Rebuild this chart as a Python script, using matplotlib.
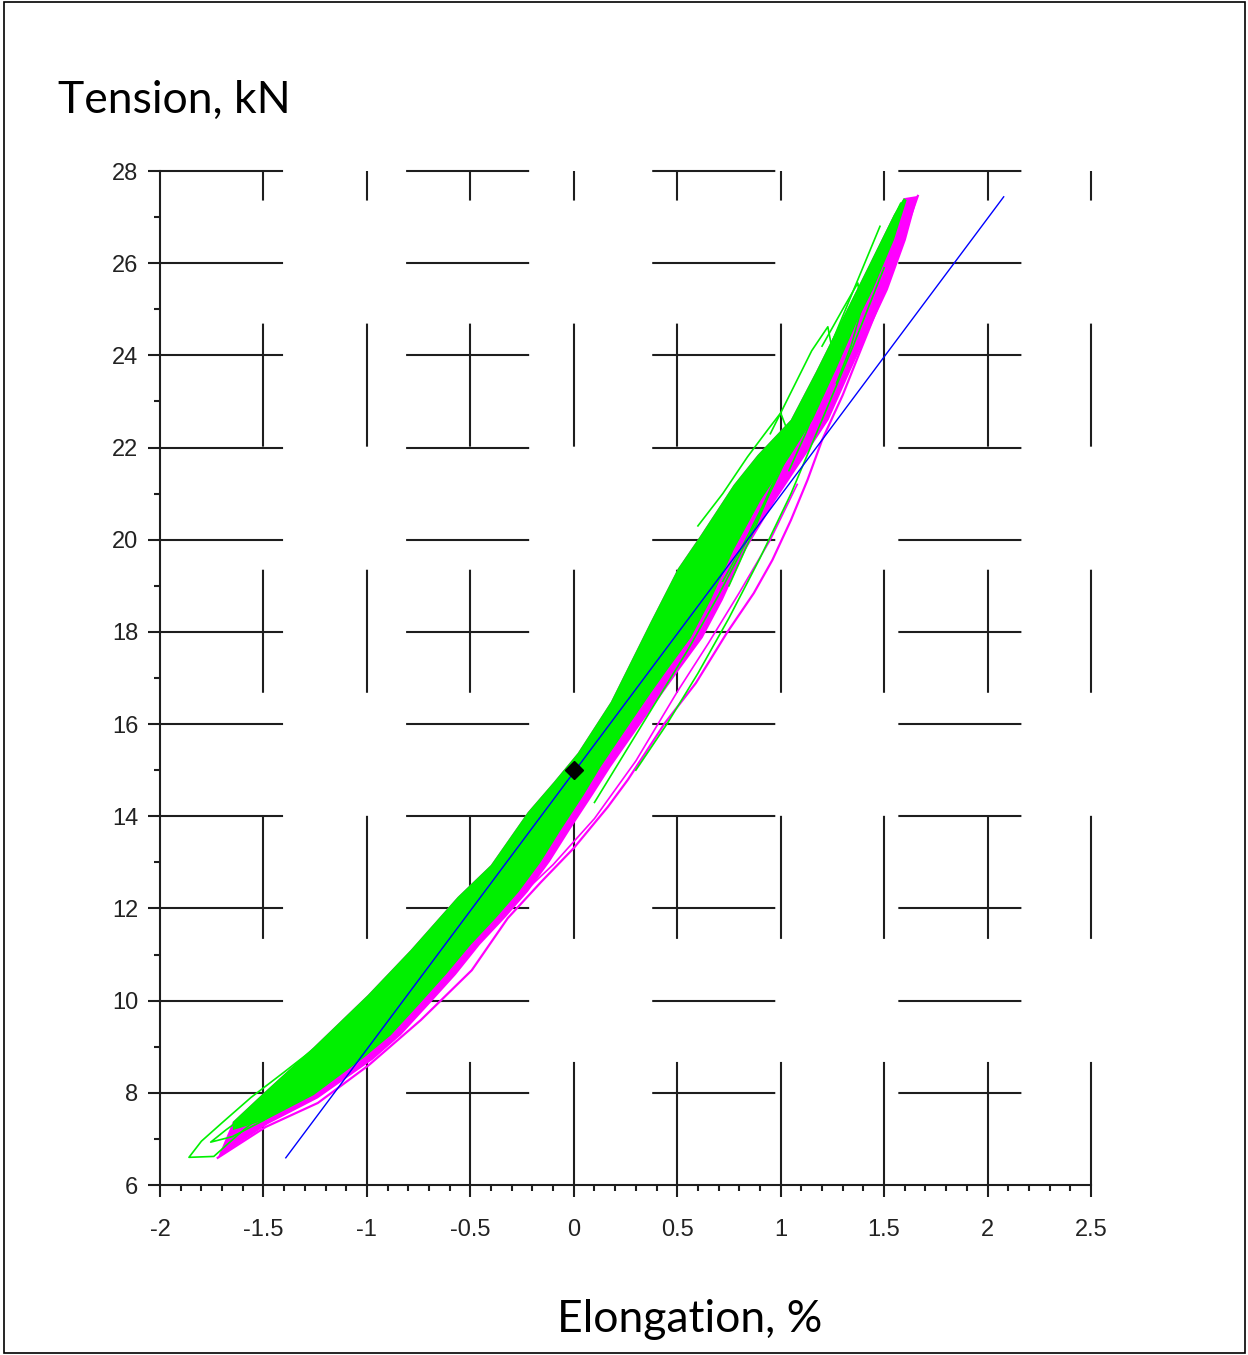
import matplotlib.pyplot as plt
from matplotlib.patches import Rectangle

plt.rcParams['lines.scale_dashes'] = False

# axis ticks
x_ticks = [-2, -1.5, -1, -0.5, 0, 0.5, 1, 1.5, 2, 2.5]
x_tick_labels = ['-2', '-1.5', '-1', '-0.5', '0', '0.5', '1', '1.5', '2', '2.5']
y_ticks = [6, 8, 10, 12, 14, 16, 18, 20, 22, 24, 26, 28]

# dense green band (many overlapping cycles): upper and lower envelopes
green_upper_x = [-1.648, -1.498, -1.257, -0.996, -0.788, -0.561, -0.401, -0.222, -0.097, 0.019,
                 0.179, 0.372, 0.503, 0.614, 0.773, 0.889, 1.049, 1.170, 1.290, 1.435, 1.547, 1.595]
green_upper_y = [7.37, 8.00, 8.99, 10.12, 11.10, 12.25, 12.94, 14.09, 14.74, 15.37,
                 16.48, 18.22, 19.37, 20.10, 21.19, 21.84, 22.60, 23.64, 24.72, 26.03, 27.05, 27.41]
green_lower_x = [1.609, 1.547, 1.445, 1.373, 1.266, 1.155, 1.049, 0.904, 0.773, 0.662, 0.565, 0.459,
                 0.372, 0.261, 0.130, 0.048, -0.063, -0.159, -0.266, -0.377, -0.498, -0.619,
                 -0.749, -0.884, -1.015, -1.257, -1.489, -1.648]
green_lower_y = [27.37, 26.50, 25.42, 24.77, 23.68, 22.60, 21.84, 20.86, 19.78, 18.69, 17.87, 17.22,
                 16.67, 15.94, 15.07, 14.46, 13.70, 13.01, 12.36, 11.79, 11.21, 10.56,
                 9.91, 9.25, 8.76, 7.95, 7.41, 7.19]

# magenta band: right-hand envelope
magenta_right_x = [1.663, 1.605, 1.518, 1.445, 1.339, 1.232, 1.121, 0.976, 0.831, 0.720, 0.623, 0.517,
                   0.430, 0.314, 0.179, 0.092, -0.019, -0.116, -0.222, -0.333, -0.454, -0.570,
                   -0.701, -0.836, -0.971, -1.237, -1.479, -1.721]
magenta_right_y = [27.46, 26.50, 25.42, 24.72, 23.68, 22.60, 21.84, 20.86, 19.78, 18.69, 17.87, 17.22,
                   16.67, 15.94, 15.07, 14.46, 13.70, 13.01, 12.36, 11.79, 11.21, 10.56,
                   9.91, 9.25, 8.72, 7.88, 7.32, 6.59]

# outer magenta cycles
mag_outer_x = [-1.721, -1.489, -1.237, -0.991, -0.739, -0.493, -0.319, -0.159, 0.000, 0.164, 0.261,
               0.440, 0.590, 0.740, 0.870, 0.960, 1.050, 1.130, 1.200, 1.300, 1.387, 1.484, 1.580, 1.663]
mag_outer_y = [6.59, 7.26, 7.78, 8.60, 9.58, 10.66, 11.79, 12.57, 13.31, 14.20, 14.79,
               16.02, 16.89, 17.98, 18.84, 19.56, 20.43, 21.30, 22.16, 23.14, 24.12, 25.20, 26.40, 27.46]
mag_second_x = [-0.30, -0.10, 0.10, 0.30, 0.50, 0.65, 0.80, 0.95, 1.08]
mag_second_y = [12.10, 12.95, 13.95, 15.20, 16.70, 17.75, 18.85, 20.00, 21.20]

# individual green cycles drawn as outlines
green_loops = [
    ([-0.95, -1.20, -1.45, -1.62, -1.74, -1.86, -1.80, -1.70, -1.56, -1.40, -1.20, -1.00],
     [9.55, 8.65, 7.75, 7.10, 6.62, 6.60, 6.95, 7.35, 7.90, 8.45, 9.15, 10.00]),
    ([-1.30, -1.50, -1.65, -1.755, -1.68, -1.55, -1.40],
     [8.05, 7.40, 7.05, 6.93, 7.20, 7.62, 8.10]),
    ([0.10, 0.25, 0.40, 0.55, 0.70, 0.85, 1.00, 1.15, 1.30, 1.45, 1.58],
     [14.3, 15.4, 16.5, 17.6, 18.8, 20.1, 21.5, 23.0, 24.6, 26.1, 27.3]),
    ([0.30, 0.45, 0.60, 0.75, 0.90, 1.05, 1.20, 1.35, 1.50],
     [15.0, 16.0, 17.1, 18.3, 19.6, 21.0, 22.6, 24.2, 25.9]),
    ([0.75, 0.88, 1.00, 1.12, 1.24, 1.36, 1.48],
     [19.0, 20.3, 21.6, 22.9, 24.2, 25.5, 26.8]),
    ([0.60, 0.72, 0.84, 0.94, 1.00, 1.03, 1.00, 0.92, 0.82, 0.72],
     [20.3, 21.0, 21.8, 22.4, 22.75, 22.4, 21.6, 20.8, 19.9, 19.1]),
    ([0.95, 1.05, 1.15, 1.228, 1.25, 1.20, 1.12, 1.04],
     [22.3, 23.2, 24.1, 24.62, 24.1, 23.2, 22.3, 21.5]),
    ([1.20, 1.30, 1.373, 1.39, 1.34, 1.27],
     [24.2, 25.0, 25.57, 25.0, 24.2, 23.4]),
]

# linear fit and reference point
fit_x = [-1.392, 2.078]
fit_y = [6.59, 27.44]
ref_x = [0.0]
ref_y = [15.0]

W, H = 1248, 1355
fig = plt.figure(figsize=(W / 100, H / 100), dpi=100)
ax = fig.add_axes([160 / W, 170 / H, 931 / W, 1014 / H])
ax.set_xlim(-2, 2.5)
ax.set_ylim(6, 28)

grid_col = '#1e1e1e'
dash = (88.6, 88.6)
for yv in y_ticks[1:]:
    ax.plot([-2, 2.5], [yv, yv], color=grid_col, lw=1.5, dashes=dash,
            dash_capstyle='butt', clip_on=False, zorder=1)
for xv in x_ticks[1:]:
    ax.plot([xv, xv], [6, 28], color=grid_col, lw=1.5, dashes=dash,
            dash_capstyle='butt', clip_on=False, zorder=1)

# magenta band under the green one
ax.fill(magenta_right_x + green_upper_x, magenta_right_y + green_upper_y,
        color='#ff00ff', lw=0, zorder=2)
ax.plot(mag_outer_x, mag_outer_y, color='#ff00ff', lw=1.6, zorder=2)
ax.plot(mag_second_x, mag_second_y, color='#ff00ff', lw=1.2, zorder=2)

ax.fill(green_upper_x + green_lower_x, green_upper_y + green_lower_y,
        color='#00f000', lw=0, zorder=3)
for lx, ly in green_loops:
    ax.plot(lx, ly, color='#00f000', lw=1.2, zorder=4)

ax.plot(fit_x, fit_y, color='#0000ff', lw=1.0, zorder=5)
ax.plot(ref_x, ref_y, 'D', color='black', ms=9, zorder=6)

for s in ['top', 'right']:
    ax.spines[s].set_visible(False)
for s in ['left', 'bottom']:
    ax.spines[s].set_linewidth(1.5)
    ax.spines[s].set_color(grid_col)

ax.set_xticks(x_ticks)
ax.set_xticklabels(x_tick_labels)
ax.set_yticks(y_ticks)
ax.set_xticks([v / 10 for v in range(-20, 26)], minor=True)
ax.set_yticks(range(6, 29), minor=True)
for lab in ax.get_xticklabels() + ax.get_yticklabels():
    lab.set_family('Liberation Sans')
ax.tick_params(which='major', direction='out', length=8.6, width=1.5, color=grid_col,
               labelsize=17, labelcolor='#222222')
ax.tick_params(which='minor', direction='out', length=4.5, width=1.5, color=grid_col)
ax.tick_params(axis='x', which='major', pad=16)
ax.tick_params(axis='y', which='major', pad=7)

fig.text(58 / W, 1 - 113 / H, 'Tension, kN', fontsize=32, family='Lato', va='baseline', ha='left')
fig.text(690 / W, 1 - 1332 / H, 'Elongation, %', fontsize=32, family='Lato', va='baseline', ha='center')

fig.patches.append(Rectangle((4 / W, 2 / H), 1241 / W, 1351 / H, transform=fig.transFigure,
                             fill=False, ec='black', lw=1.2))

fig.savefig('out.png', dpi=100)
